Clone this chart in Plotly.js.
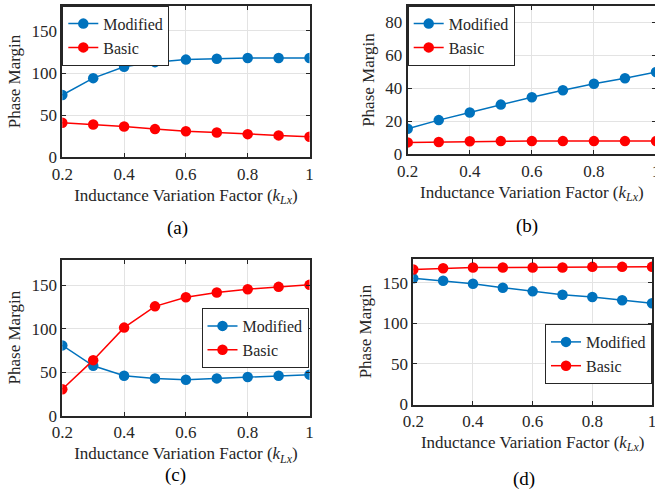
<!DOCTYPE html>
<html>
<head>
<meta charset="utf-8">
<script src="https://cdn.plot.ly/plotly-3.0.1.min.js"></script>
<style>
html,body{margin:0;padding:0;overflow:hidden;background:#fff;width:655px;height:491px;}
#chart{width:660px;height:491px;}
</style>
</head>
<body>
<div id="chart"></div>
<script>
const kLx = [0.2, 0.3, 0.4, 0.5, 0.6, 0.7, 0.8, 0.9, 1.0];

const modA = [74, 94, 107.5, 113, 116, 117, 118, 118, 118];
const basA = [41, 39, 36.5, 33.5, 31, 29.5, 27.5, 26, 24.5];

const modB = [15.5, 20.7, 25.3, 30.1, 34.6, 38.8, 42.7, 46.1, 49.8];
const basB = [7.2, 7.4, 7.9, 8, 8, 8, 8, 8, 8];

const modC = [81, 57.5, 46, 43, 41.5, 43, 44.5, 46, 47.3];
const basC = [30.5, 64, 101.5, 126, 136.5, 142, 145.8, 148.5, 150.8];

const modD = [155.5, 152.5, 148.8, 144, 139.5, 135.3, 132.5, 128.5, 124.8];
const basD = [166.5, 168, 169, 169, 169, 169, 169.7, 169.7, 169.7];

const yTicksA = [0, 50, 100, 150];
const yTicksB = [0, 20, 40, 60, 80];
const xTicks = [0.2, 0.4, 0.6, 0.8, 1];
const xTickText = ['0.2', '0.4', '0.6', '0.8', '1'];
const panelLabels = ['(a)', '(b)', '(c)', '(d)'];
const seriesNames = ['Modified', 'Basic'];

const W = 660, H = 491;
const BLUE = '#0072BD', RED = '#FF0000', INK = '#262626';
const FONT = '"Liberation Serif", serif';

function trace(y, name, color, xa, ya, leg) {
  return {
    x: kLx, y: y, name: name, type: 'scatter', mode: 'lines+markers',
    xaxis: xa, yaxis: ya, legend: leg,
    line: {color: color, width: 1.5},
    marker: {color: color, size: 10.5, symbol: 'circle'}
  };
}

const data = [
  trace(modA, seriesNames[0], BLUE, 'x', 'y', 'legend'),
  trace(basA, seriesNames[1], RED, 'x', 'y', 'legend'),
  trace(modB, seriesNames[0], BLUE, 'x2', 'y2', 'legend2'),
  trace(basB, seriesNames[1], RED, 'x2', 'y2', 'legend2'),
  trace(modC, seriesNames[0], BLUE, 'x3', 'y3', 'legend3'),
  trace(basC, seriesNames[1], RED, 'x3', 'y3', 'legend3'),
  trace(modD, seriesNames[0], BLUE, 'x4', 'y4', 'legend4'),
  trace(basD, seriesNames[1], RED, 'x4', 'y4', 'legend4')
];

// pixel boxes [left, right, top, bottom]
const boxes = [
  [62.3, 309.5, 5.7, 157.3],
  [407.7, 656, 5.7, 154.3],
  [62.3, 309.5, 259.5, 415.7],
  [413.3, 652, 258.5, 404.5]
];

const xTitle = 'Inductance Variation Factor (<i>k</i><sub><i>Lx</i></sub>)';

function xaxis(i) {
  const b = boxes[i];
  return {
    domain: [b[0]/W, b[1]/W], anchor: i === 0 ? 'y' : 'y' + (i+1),
    range: [0.2, 1], tickvals: xTicks, ticktext: xTickText,
    showline: true, linecolor: INK, linewidth: 2, mirror: 'ticks',
    ticks: 'inside', ticklen: 4, tickwidth: 1, tickcolor: INK,
    showgrid: true, gridcolor: '#e3e3e3', gridwidth: 1, zeroline: false,
    tickfont: {family: FONT, size: 17, color: INK},
    ticklabeloverflow: 'allow',
    title: {text: xTitle, font: {family: FONT, size: 17, color: INK}, standoff: 6},
    automargin: false, fixedrange: true
  };
}
function yaxis(i, range, ticks) {
  const b = boxes[i];
  return {
    domain: [(H-b[3])/H, (H-b[2])/H], anchor: i === 0 ? 'x' : 'x' + (i+1),
    range: range, tickvals: ticks,
    showline: true, linecolor: INK, linewidth: 2, mirror: 'ticks',
    ticks: 'inside', ticklen: 4, tickwidth: 1, tickcolor: INK,
    showgrid: true, gridcolor: '#e3e3e3', gridwidth: 1, zeroline: false,
    tickfont: {family: FONT, size: 17, color: INK},
    title: {text: 'Phase Margin', font: {family: FONT, size: 17, color: INK}, standoff: 6},
    automargin: false, fixedrange: true
  };
}

function legend(x, y, xanchor, yanchor) {
  return {
    x: x, y: y, xanchor: xanchor, yanchor: yanchor, xref: 'paper', yref: 'paper',
    bgcolor: '#ffffff', bordercolor: INK, borderwidth: 1,
    font: {family: FONT, size: 16, color: INK},
    tracegroupgap: 0, itemwidth: 30
  };
}

const labelPos = [[177, 228], [527, 226], [175, 475], [524, 479]];

const layout = {
  width: W, height: H,
  margin: {l: 0, r: 0, t: 0, b: 0},
  paper_bgcolor: '#ffffff', plot_bgcolor: '#ffffff',
  showlegend: true,
  xaxis: xaxis(0), yaxis: yaxis(0, [0, 180], yTicksA),
  xaxis2: xaxis(1), yaxis2: yaxis(1, [0, 90], yTicksB),
  xaxis3: xaxis(2), yaxis3: yaxis(2, [0, 180], yTicksA),
  xaxis4: xaxis(3), yaxis4: yaxis(3, [0, 180], yTicksA),
  legend: legend(boxes[0][0]/W, (H-boxes[0][2])/H, 'left', 'top'),
  legend2: legend(boxes[1][0]/W, (H-boxes[1][2])/H, 'left', 'top'),
  legend3: legend(308.5/W, (H-308)/H, 'right', 'top'),
  legend4: legend(652/W, (H-324)/H, 'right', 'top'),
  annotations: panelLabels.map((t, i) => ({
    text: t, x: labelPos[i][0]/W, y: (H-labelPos[i][1])/H, xref: 'paper', yref: 'paper',
    xanchor: 'center', yanchor: 'middle', showarrow: false,
    font: {family: FONT, size: 19, color: '#000'}
  }))
};

Plotly.newPlot('chart', data, layout, {staticPlot: true, displayModeBar: false});
</script>
</body>
</html>
